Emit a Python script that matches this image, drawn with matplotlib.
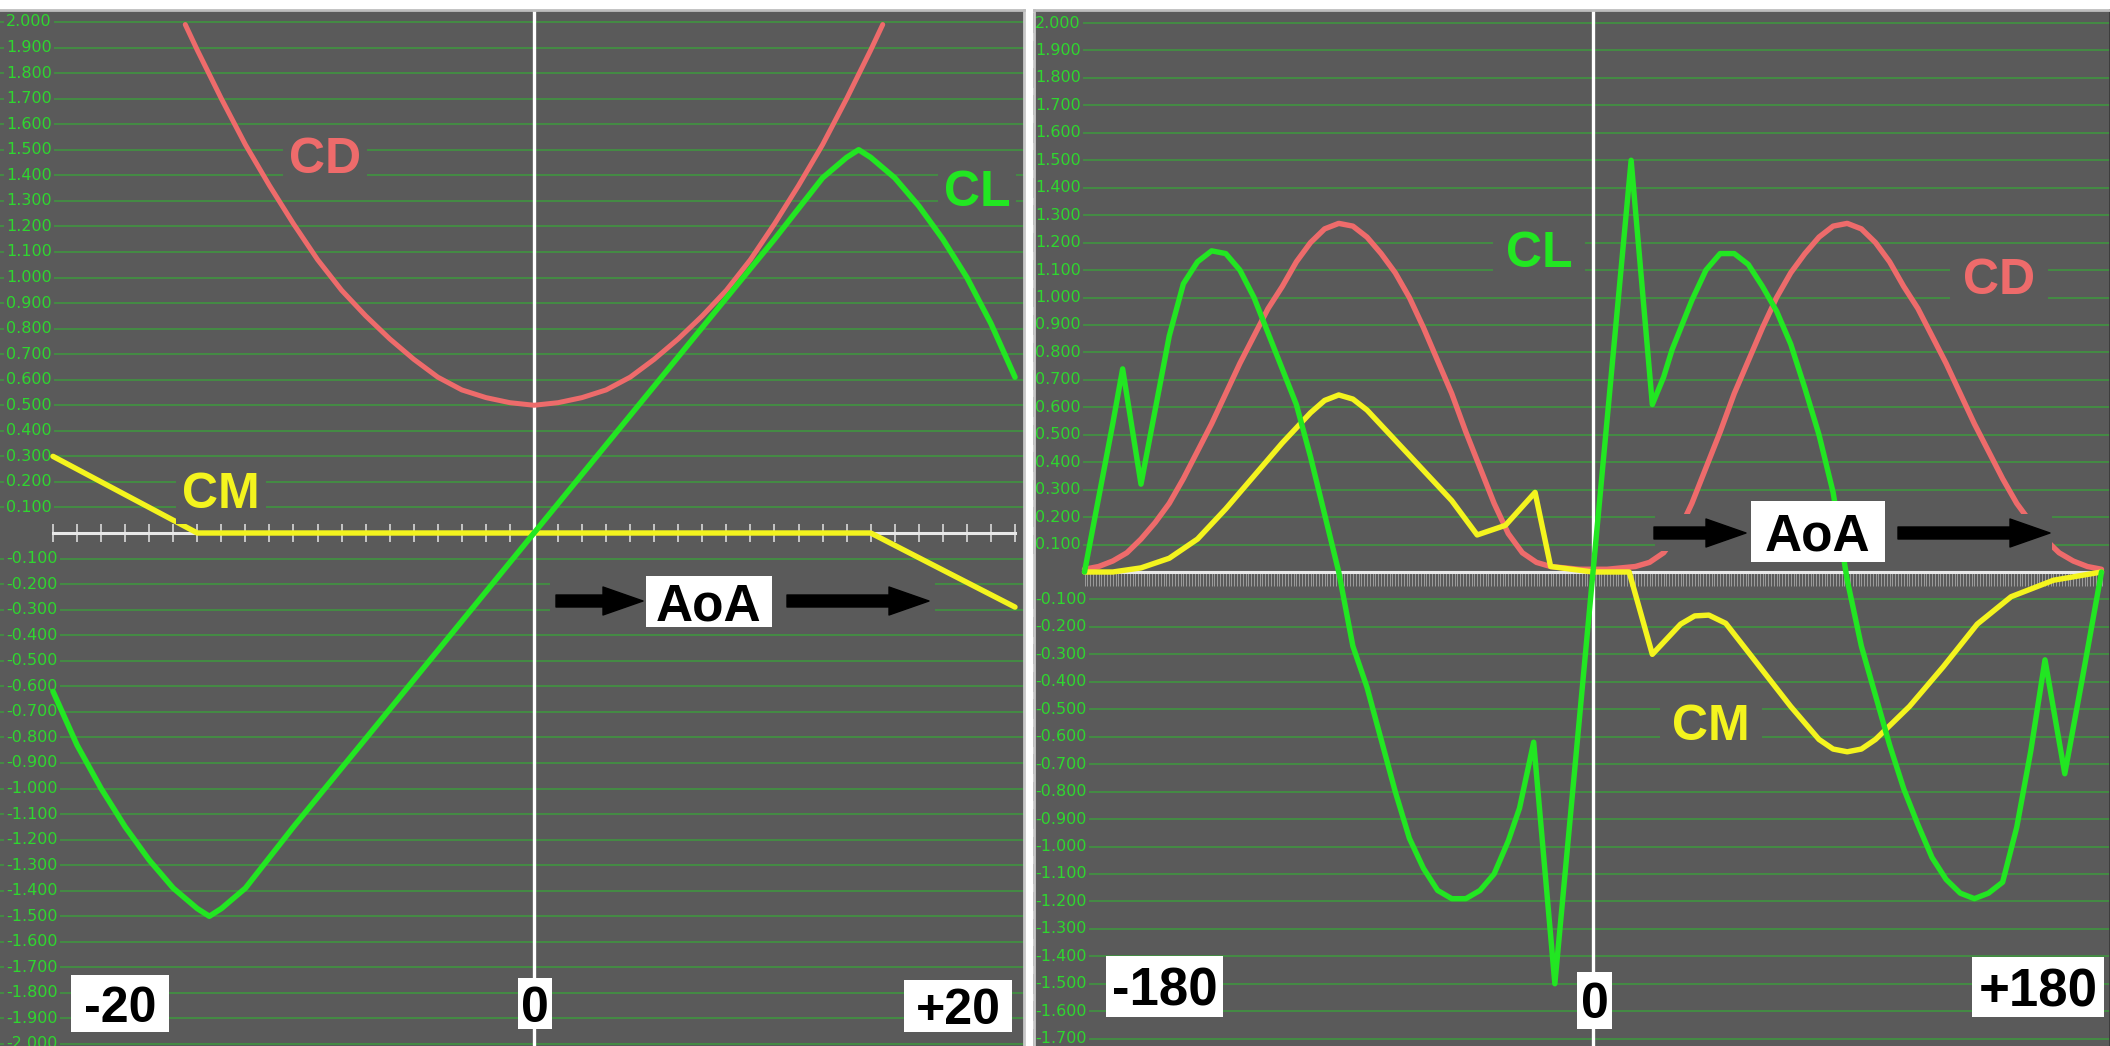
import numpy as np
import matplotlib
matplotlib.use("Agg")
import matplotlib.pyplot as plt
from matplotlib.patches import Rectangle, FancyArrow
from matplotlib.transforms import Affine2D

# ---------------- data: left panel (AoA -20..+20 deg) ----------------
L_AOA_CL = [-20, -19, -18, -17, -16, -15, -14, -13.5, -13, -12, -11, -10, -8, -6, -4, -2, 0,
            2, 4, 6, 8, 10, 11, 12, 13, 13.5, 14, 15, 16, 17, 18, 19, 20]
L_CL = [-0.62, -0.83, -1.00, -1.15, -1.28, -1.39, -1.47, -1.50, -1.47, -1.39, -1.27, -1.15,
        -0.92, -0.69, -0.46, -0.23, 0.00,
        0.23, 0.46, 0.69, 0.92, 1.15, 1.27, 1.39, 1.47, 1.50, 1.47, 1.39, 1.28, 1.15, 1.00, 0.82, 0.61]

L_AOA_CD = [-14.5, -14, -13, -12, -11, -10, -9, -8, -7, -6, -5, -4, -3, -2, -1, 0,
            1, 2, 3, 4, 5, 6, 7, 8, 9, 10, 11, 12, 13, 14, 14.5]
L_CD = [1.99, 1.89, 1.70, 1.52, 1.36, 1.21, 1.07, 0.95, 0.85, 0.76, 0.68, 0.61, 0.56, 0.53, 0.51, 0.50,
        0.51, 0.53, 0.56, 0.61, 0.68, 0.76, 0.85, 0.95, 1.07, 1.21, 1.36, 1.52, 1.70, 1.89, 1.99]

L_AOA_CM = [-20, -14, 14, 20]
L_CM = [0.30, 0.00, 0.00, -0.29]

L_YTICKS = [round(v, 1) for v in np.arange(-2.0, 2.05, 0.1)]

# ---------------- data: right panel (AoA -180..+180 deg) ----------------
R_AOA_CL = [-180, -175, -170, -166.5, -160, -155, -150, -145, -140, -135, -130, -125, -120, -115,
            -110, -105, -100, -95, -90, -85, -80, -75, -70, -65, -60, -55, -50, -45, -40, -35,
            -30, -26, -21, -13.5, 0, 13.5, 21, 25, 28, 35, 40, 45, 50, 55, 60, 65, 70, 75, 80,
            85, 90, 95, 100, 105, 110, 115, 120, 125, 130, 135, 140, 145, 150, 155, 160, 167, 173, 180]
R_CL = [0.00, 0.27, 0.54, 0.74, 0.32, 0.59, 0.86, 1.05, 1.13, 1.17, 1.16, 1.10, 1.00, 0.87,
        0.74, 0.61, 0.42, 0.21, 0.00, -0.27, -0.42, -0.61, -0.80, -0.97, -1.08, -1.16, -1.19, -1.19, -1.16, -1.10,
        -0.98, -0.86, -0.62, -1.50, 0.00, 1.50, 0.61, 0.71, 0.81, 0.99, 1.10, 1.16, 1.16, 1.12, 1.04, 0.95, 0.83, 0.67, 0.50,
        0.29, -0.03, -0.27, -0.45, -0.63, -0.79, -0.92, -1.04, -1.12, -1.17, -1.19, -1.17, -1.13, -0.93, -0.65, -0.32, -0.735, -0.40, 0.00]

R_AOA_CD = [-180, -175, -170, -165, -160, -155, -150, -145, -140, -135, -130, -125, -120, -115,
            -110, -105, -100, -95, -90, -85, -80, -75, -70, -65, -60, -55, -50, -45, -40, -35,
            -30, -25, -20, -15, -10, -5, 0, 5, 10, 15, 20, 25, 30, 35, 40, 45, 50, 55, 60, 65,
            70, 75, 80, 85, 90, 95, 100, 105, 110, 115, 120, 125, 130, 135, 140, 145, 150, 155,
            160, 165, 170, 175, 180]
R_CD = [0.01, 0.02, 0.04, 0.07, 0.12, 0.18, 0.25, 0.34, 0.44, 0.54, 0.65, 0.76, 0.86, 0.96,
        1.04, 1.13, 1.20, 1.25, 1.27, 1.26, 1.22, 1.16, 1.09, 1.00, 0.89, 0.77, 0.65, 0.51, 0.38, 0.25,
        0.14, 0.07, 0.035, 0.02, 0.015, 0.01, 0.01, 0.01, 0.015, 0.02, 0.035, 0.07, 0.14, 0.25, 0.38, 0.51, 0.65, 0.77, 0.89, 1.00,
        1.09, 1.16, 1.22, 1.26, 1.27, 1.25, 1.20, 1.13, 1.04, 0.96, 0.86, 0.76, 0.65, 0.54, 0.44, 0.34, 0.25, 0.18,
        0.12, 0.07, 0.04, 0.02, 0.01]

R_AOA_CM = [-180, -170, -160, -150, -140, -130, -120, -110, -100, -95, -90, -85, -80, -70, -60,
            -50, -41, -31, -20.5, -15, 0, 12.8, 21, 31, 36, 41, 47, 59, 70, 80, 85, 90, 95, 100,
            112, 124, 136, 148, 163, 180]
R_CM = [0.00, 0.00, 0.015, 0.05, 0.12, 0.23, 0.35, 0.47, 0.58, 0.625, 0.645, 0.63, 0.59, 0.48, 0.37,
        0.26, 0.135, 0.17, 0.29, 0.02, 0.00, 0.00, -0.30, -0.19, -0.16, -0.157, -0.187, -0.345, -0.49, -0.61, -0.645, -0.655, -0.645, -0.61,
        -0.49, -0.345, -0.19, -0.09, -0.03, 0.00]

R_YTICKS = [round(v, 1) for v in np.arange(-1.7, 2.05, 0.1)]

# ---------------- styling ----------------
W, H, DPI = 2110, 1046, 100
BG = "#5a5a5a"
GRID = "#429042"
TICK_TXT = "#2fd62f"
CL_C = "#22e622"
CD_C = "#ee6b6b"
CM_C = "#f4f41e"
BOLD = "Liberation Sans"

fig = plt.figure(figsize=(W / DPI, H / DPI), dpi=DPI, facecolor="white")
PX = Affine2D().scale(1 / DPI, -1 / DPI).translate(0, H / DPI) + fig.dpi_scale_trans


def make_panel(x0, x1, y0, y1, x_zero_px, px_per_deg, y_zero_px, px_per_unit,
               yticks, xbound, tick_kw, label_px):
    ax = fig.add_axes([x0 / W, (H - y1) / H, (x1 - x0) / W, (y1 - y0) / H])
    ax.set_facecolor(BG)
    ax.set_xlim((x0 - x_zero_px) / px_per_deg, (x1 - x_zero_px) / px_per_deg)
    ax.set_ylim((y_zero_px - y1) / px_per_unit, (y_zero_px - y0) / px_per_unit)
    ax.set_axisbelow(True)
    ax.set_yticks([])
    tr = ax.get_yaxis_transform()
    for v in yticks:
        if abs(v) < 1e-9:
            continue
        ax.axhline(v, color=GRID, lw=1.3, zorder=0.8)
        ax.text((label_px - x0) / (x1 - x0), v, f"{v:.3f}", transform=tr, ha="left",
                va="center", fontsize=11.5, color=TICK_TXT, family="DejaVu Sans", zorder=1,
                bbox=dict(boxstyle="square,pad=0.15", facecolor=BG, edgecolor="none"))
    sp = ax.spines["bottom"]
    sp.set_position(("data", 0))
    sp.set_bounds(*xbound)
    sp.set_color("#e8e8e8")
    sp.set_linewidth(2.2)
    sp.set_zorder(1.8)
    ax.set_xticks(np.arange(xbound[0], xbound[1] + 1, 1))
    ax.tick_params(axis="x", labelbottom=False, **tick_kw)
    ax.axvline(0, color="white", lw=2.4, zorder=1.8)
    ax.spines["top"].set_color("#bdbdbd")
    ax.spines["top"].set_linewidth(2)
    return ax


axL = make_panel(0, 1024, 10, 1046, 534, 24.05, 533, 255.5, L_YTICKS, (-20, 20),
                 dict(direction="inout", length=13, width=1.3, color="#cfcfcf"), 6)
axL.spines["left"].set_visible(False)
axL.spines["right"].set_color("#c8c8c8")
axL.spines["right"].set_linewidth(2)

axR = make_panel(1034, 2110, 10, 1046, 1593, 2.825, 572, 274.5, R_YTICKS, (-180, 180),
                 dict(direction="out", length=10, width=0.6, color=(0.9, 0.9, 0.9, 0.55)), 1035)
axR.spines["left"].set_color("#c8c8c8")
axR.spines["left"].set_linewidth(2)
axR.spines["right"].set_color("#3a3a3a")
axR.spines["right"].set_linewidth(2)

line_kw = dict(solid_joinstyle="round", solid_capstyle="round", zorder=3)
axL.plot(L_AOA_CD, L_CD, color=CD_C, lw=3.6, **line_kw)
axL.plot(L_AOA_CM, L_CM, color=CM_C, lw=3.9, **line_kw)
axL.plot(L_AOA_CL, L_CL, color=CL_C, lw=4.0, **line_kw)

axR.plot(R_AOA_CD, R_CD, color=CD_C, lw=3.9, **line_kw)
axR.plot(R_AOA_CM, R_CM, color=CM_C, lw=3.9, **line_kw)
axR.plot(R_AOA_CL, R_CL, color=CL_C, lw=3.9, **line_kw)

# ---------------- overlays (pixel coordinates) ----------------
# background patches behind the AoA arrows
for (x0, y0, x1, y1) in [(550, 583, 935, 620), (1655, 514, 2052, 551)]:
    fig.add_artist(Rectangle((x0, y0), x1 - x0, y1 - y0, transform=PX,
                             facecolor=BG, edgecolor="none", zorder=5))

# arrows
for (xs, xe, y) in [(556, 643, 601), (787, 929, 601), (1654, 1746, 533), (1898, 2050, 533)]:
    fig.add_artist(FancyArrow(xs, y, xe - xs, 0, width=12, head_width=28, head_length=40,
                              length_includes_head=True, transform=PX, facecolor="black",
                              edgecolor="black", joinstyle="round", zorder=6))

# white label boxes
boxes = [
    ("AoA", 646, 576, 772, 627, 37),
    ("AoA", 1751, 501, 1885, 562, 37),
    ("-20", 71, 975, 169, 1032, 36),
    ("0", 518, 978, 552, 1029, 36),
    ("+20", 904, 980, 1012, 1032, 36),
    ("-180", 1106, 956, 1223, 1017, 38),
    ("0", 1577, 972, 1612, 1029, 36),
    ("+180", 1972, 957, 2104, 1017, 38),
]
for (s, x0, y0, x1, y1, fs) in boxes:
    fig.add_artist(Rectangle((x0, y0), x1 - x0, y1 - y0, transform=PX,
                             facecolor="white", edgecolor="none", zorder=6))
    fig.text((x0 + x1) / 2, (y0 + y1) / 2, s, transform=PX, ha="center", va="center_baseline",
             fontsize=fs, fontweight="bold", family=BOLD, color="black", zorder=7)

# curve names
names = [
    ("CD", 325, 155, CD_C, 0.12),
    ("CL", 977, 188, CL_C, 0.12),
    ("CM", 221, 490, CM_C, 0.12),
    ("CL", 1539, 249, CL_C, 0.25),
    ("CD", 1999, 276, CD_C, 0.25),
    ("CM", 1711, 722, CM_C, 0.25),
]
for (s, x, y, c, pad) in names:
    fig.text(x, y, s, transform=PX, ha="center", va="center_baseline", fontsize=36,
             fontweight="bold", family=BOLD, color=c, zorder=7,
             bbox=dict(boxstyle=f"square,pad={pad}", facecolor=BG, edgecolor="none"))

fig.savefig("out.png", dpi=DPI, facecolor="white")
